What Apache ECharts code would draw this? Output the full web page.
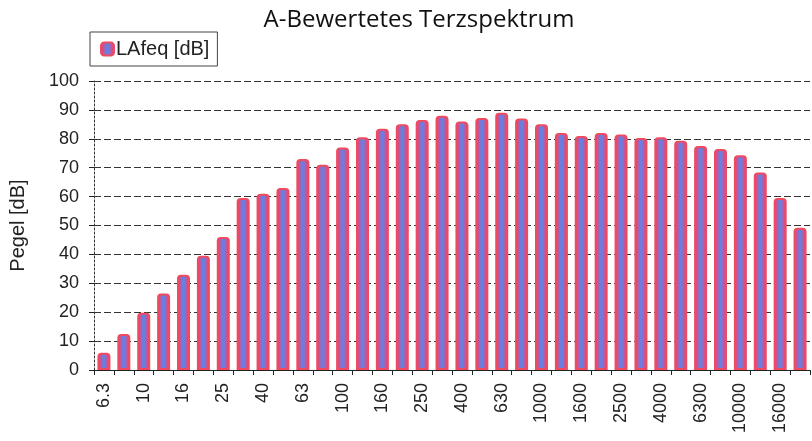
<!DOCTYPE html>
<html>
<head>
<meta charset="utf-8">
<script src="https://cdn.jsdelivr.net/npm/echarts@6/dist/echarts.min.js"></script>
<style>
  html, body { margin: 0; padding: 0; background: #fff; }
  #myChart { width: 812px; height: 441px; }
</style>
</head>
<body>
<div id="myChart"></div>
<script>
// Terzband-Mittenfrequenzen [Hz]
var bands = ['6.3', '8', '10', '12.5', '16', '20', '25', '31.5', '40', '50', '63', '80',
  '100', '125', '160', '200', '250', '315', '400', '500', '630', '800', '1000', '1250',
  '1600', '2000', '2500', '3150', '4000', '5000', '6300', '8000', '10000', '12500', '16000', '20000']
// LAfeq [dB]
var lafeq = [6, 12.5, 19.8, 26.5, 33, 39.5, 46, 59.5, 61, 63, 73, 71,
  77, 80.5, 83.5, 85, 86.5, 88, 86, 87.2, 89, 87, 85, 82,
  81, 82, 81.5, 80.3, 80.5, 79.3, 77.5, 76.5, 74.3, 68.3, 59.5, 49.2]
var yTicks = [0, 10, 20, 30, 40, 50, 60, 70, 80, 90, 100]

var chart = echarts.init(document.getElementById('myChart'))

var barColor = new echarts.graphic.LinearGradient(0, 0, 1, 0, [
  { offset: 0, color: '#f0405e' },
  { offset: 0.22, color: '#d0508e' },
  { offset: 0.42, color: '#6a7ee0' },
  { offset: 0.58, color: '#6a7ee0' },
  { offset: 0.78, color: '#d0508e' },
  { offset: 1, color: '#f0405e' }
])

chart.setOption({
  animation: false,
  title: {
    text: 'A-Bewertetes Terzspektrum',
    left: 414,
    top: 3,
    textAlign: 'center',
    textStyle: {
      fontFamily: 'Open Sans',
      fontWeight: 'normal',
      fontSize: 24,
      color: '#111'
    }
  },
  legend: {
    left: 90,
    top: 32,
    data: ['LAfeq [dB]'],
    borderColor: '#444',
    borderWidth: 1,
    padding: [7, 8, 7, 10],
    itemWidth: 13,
    itemHeight: 13,
    itemGap: 4,
    textStyle: {
      fontFamily: 'Liberation Sans',
      fontSize: 20,
      color: '#222',
      padding: [0, 0, 0, -3]
    }
  },
  grid: {
    left: 90,
    right: 2,
    top: 81,
    bottom: 71
  },
  xAxis: {
    type: 'category',
    data: bands,
    axisLine: { lineStyle: { color: '#222', width: 1 } },
    axisTick: { show: true, interval: 0, length: 5, lineStyle: { color: '#222' } },
    axisLabel: {
      interval: 1,
      rotate: 90,
      margin: 13,
      fontFamily: 'Liberation Sans',
      fontSize: 18,
      color: '#222'
    }
  },
  yAxis: {
    type: 'value',
    min: yTicks[0],
    max: yTicks[yTicks.length - 1],
    interval: 10,
    name: 'Pegel [dB]',
    nameLocation: 'middle',
    nameGap: 66,
    nameTextStyle: {
      fontFamily: 'Liberation Sans',
      fontSize: 20,
      color: '#222'
    },
    axisLine: { show: true, lineStyle: { color: '#333', type: [2, 2] } },
    axisTick: { show: true, length: 5, lineStyle: { color: '#222' } },
    axisLabel: {
      margin: 15,
      fontFamily: 'Liberation Sans',
      fontSize: 18,
      color: '#222'
    },
    splitLine: {
      show: true,
      lineStyle: { color: '#333', type: [7, 3], width: 1 }
    }
  },
  series: [{
    name: 'LAfeq [dB]',
    type: 'bar',
    data: lafeq,
    barWidth: 13,
    itemStyle: {
      color: barColor,
      borderColor: '#f04a5e',
      borderWidth: 2,
      borderRadius: [3, 3, 0, 0]
    }
  }]
})
</script>
</body>
</html>
